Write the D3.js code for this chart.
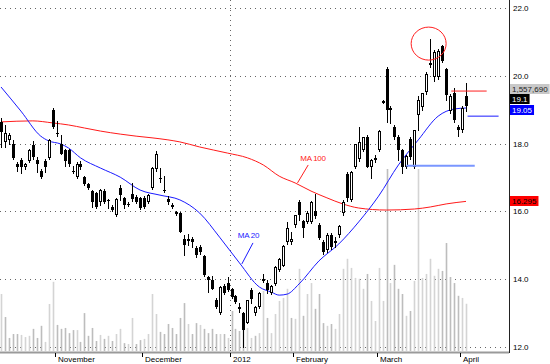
<!DOCTYPE html>
<html>
<head>
<meta charset="utf-8">
<script src="https://cdn.jsdelivr.net/npm/d3@7"></script>
<style>
  body { margin: 0; background: #fff; }
  svg { display: block; font-family: Arial, "Liberation Sans", sans-serif; }
</style>
</head>
<body>
<div id="chart"></div>
<script>
// daily bars, late Oct 2011 -> early Apr 2012
const open = [18.64,18.05,18.10,18.00,17.40,17.52,17.30,17.48,17.95,17.52,17.19,17.49,17.58,18.99,18.32,17.99,17.81,17.81,17.18,17.01,
  17.40,17.01,16.81,16.60,16.54,16.28,16.60,16.33,16.13,15.90,16.69,16.40,16.22,16.51,16.42,16.40,16.40,16.28,16.69,17.25,
  17.00,16.62,16.37,16.19,15.98,15.95,15.19,15.15,15.19,14.92,14.95,14.68,14.06,13.98,13.39,13.00,13.80,13.89,13.71,13.50,
  13.18,13.00,12.71,13.68,13.00,13.18,14.00,13.89,13.59,13.86,14.27,14.40,15.10,15.10,15.60,16.28,15.72,15.69,15.69,16.00,
  15.60,15.10,14.86,15.30,15.10,15.30,15.95,17.10,16.34,17.30,17.55,17.81,18.19,17.31,17.58,17.81,19.25,20.20,18.98,18.49,
  18.19,17.81,17.31,18.13,17.31,18.85,19.08,19.52,20.35,19.95,19.97,20.88,20.20,18.95,19.50,18.50,18.40,19.40];
const high = [18.75,18.55,18.30,18.10,17.45,17.58,17.42,17.85,18.07,17.60,17.25,17.55,18.15,19.05,18.66,18.25,17.85,17.85,17.35,17.45,
  17.50,17.05,16.85,16.62,16.56,16.65,16.65,16.37,16.20,16.40,16.78,16.42,16.28,16.85,16.48,16.42,16.45,16.52,17.30,17.78,
  17.28,17.05,16.45,16.25,16.00,15.98,15.30,15.33,15.25,14.98,15.00,14.70,14.08,14.10,13.45,13.79,13.85,14.07,13.75,13.52,
  13.30,13.03,13.40,13.75,13.20,13.62,14.15,13.98,13.82,14.40,14.62,15.00,15.70,15.40,15.90,16.34,15.75,16.00,16.30,16.50,
  15.65,15.15,15.35,15.35,15.25,15.60,16.35,17.15,17.20,18.00,18.50,18.20,18.25,17.56,17.65,18.40,19.30,20.25,19.12,18.55,
  18.25,17.85,17.65,18.20,18.40,19.40,19.50,20.10,21.10,20.75,20.80,20.90,20.22,19.45,19.65,18.55,19.10,19.78];
const low = [17.90,17.90,18.00,17.55,17.20,17.13,17.25,17.45,17.55,17.16,17.00,17.16,17.55,18.45,18.22,17.68,17.35,17.35,17.13,16.98,
  17.25,16.78,16.65,16.13,16.10,16.20,16.25,16.10,16.00,15.85,16.34,16.10,16.15,16.30,16.25,16.08,16.10,16.25,16.65,17.20,
  16.87,16.57,16.22,16.10,15.90,15.39,14.71,15.00,14.95,14.65,14.75,14.10,13.62,13.70,13.15,12.98,13.55,13.65,13.45,13.30,
  13.03,12.00,12.70,13.30,12.95,13.15,13.92,13.58,13.55,13.82,14.25,14.38,15.05,15.05,15.55,15.75,15.25,15.65,15.65,15.80,
  15.18,14.75,14.80,14.90,14.95,15.25,15.90,16.30,16.30,17.28,17.50,17.78,17.30,17.00,17.45,17.78,19.20,18.64,18.60,18.15,
  17.52,17.13,17.28,17.55,17.28,18.40,19.00,19.45,20.25,19.85,19.90,20.40,19.30,18.90,18.65,18.22,18.35,18.95];
const close = [18.35,18.30,18.25,17.57,17.30,17.31,17.40,17.81,17.60,17.40,17.01,17.31,18.11,18.49,18.30,17.69,17.49,17.40,17.16,17.40,
  17.31,16.81,16.69,16.28,16.13,16.63,16.28,16.31,16.04,16.37,16.48,16.19,16.21,16.37,16.28,16.10,16.13,16.48,17.28,17.70,
  16.95,16.60,16.28,16.13,15.92,15.39,15.01,15.19,15.10,14.71,14.80,14.12,13.98,13.71,13.18,13.77,13.59,13.68,13.47,13.33,
  13.12,12.50,13.38,13.42,13.18,13.59,14.02,13.68,13.80,14.37,14.60,14.98,15.50,15.19,15.89,15.89,15.51,15.95,16.28,15.87,
  15.21,14.80,15.30,14.95,15.13,15.57,16.28,16.40,17.16,17.99,18.05,18.18,17.31,17.52,17.52,18.37,19.27,18.99,19.06,18.19,
  17.81,17.31,17.63,17.60,18.40,19.30,19.48,20.05,20.38,20.70,20.72,20.45,19.43,19.40,18.70,18.40,19.05,19.10];
const volume = [1880000,1120000,430000,560000,560000,530000,460000,500000,730000,430000,830000,300000,1550000,2280000,860000,730000,760000,590000,690000,690000,
  300000,1250000,500000,760000,330000,530000,400000,500000,330000,560000,730000,260000,230000,1090000,230000,360000,400000,560000,1880000,1220000,
  630000,560000,890000,760000,560000,1090000,1580000,890000,560000,920000,860000,730000,590000,730000,560000,560000,560000,430000,1320000,730000,
  660000,1090000,760000,430000,500000,590000,1980000,1090000,590000,1220000,1650000,1750000,2050000,1090000,1060000,2710000,1160000,1880000,2240000,1390000,
  1880000,920000,830000,890000,730000,1220000,2710000,3040000,2740000,2410000,2380000,2050000,2540000,1650000,990000,2740000,1650000,6000000,2240000,2840000,
  2050000,1880000,1160000,1320000,2310000,6000000,2410000,2540000,3040000,2480000,2710000,2640000,3560000,2440000,2240000,1820000,1750000,1557690];

// moving averages at these bars
const ma20Bars = [0,5,10,12,15,17,20,25,30,35,40,45,50,55,60,65,68,70,72,75,80,85,90,95,100,105,110,114,117];
const ma20Vals = [19.67,18.96,18.22,18.08,17.99,17.87,17.58,17.28,17.01,16.63,16.48,16.34,15.95,15.24,14.48,13.77,13.62,13.53,13.56,13.86,14.54,15.04,15.69,16.45,17.37,18.11,18.81,19.02,19.05];
const ma100Bars = [0,8,13,17,21,25,30,34,38,42,45,50,57,62,66,70,74,78,82,86,90,97,104,108,112,117];
const ma100Vals = [18.64,18.67,18.61,18.55,18.46,18.37,18.28,18.22,18.17,18.11,18.05,17.90,17.72,17.58,17.37,17.04,16.84,16.60,16.40,16.22,16.10,16.04,16.07,16.13,16.22,16.295];

const priceTicks = [12, 14, 16, 18, 20, 22];
const monthBars = [-8, 14, 36, 58, 74, 95, 116];
const monthLabels = ['October', 'November', 'December', '2012', 'February', 'March', 'April'];

const width = 550, height = 364;
const axisX = 509;

const bars = open.map((o, i) => ({ i, o, h: high[i], l: low[i], c: close[i], v: volume[i] }));

const x = d3.scaleLinear().domain([0, open.length - 1]).range([1, 466]);
const y = d3.scaleLinear().domain([12, 22]).range([347, 8]);
const yVol = d3.scaleLinear().domain([0, 6e6]).range([351, 169]);
const step = x(1) - x(0);
const cx = i => Math.round(x(i));

const svg = d3.select('#chart').append('svg')
  .attr('width', width)
  .attr('height', height);

svg.append('defs').append('clipPath').attr('id', 'plot')
  .append('rect').attr('x', 0).attr('y', 0).attr('width', axisX).attr('height', 352);

// grid
svg.append('g')
  .selectAll('line')
  .data(priceTicks)
  .enter().append('line')
  .attr('x1', 0).attr('x2', axisX - 2)
  .attr('y1', d => Math.round(y(d)) + 0.5).attr('y2', d => Math.round(y(d)) + 0.5)
  .attr('stroke', '#666')
  .attr('stroke-dasharray', '1,4');

const yearX = Math.round(x(monthBars[3]) - step / 2) + 0.5;
svg.append('line')
  .attr('x1', yearX).attr('x2', yearX)
  .attr('y1', 0).attr('y2', 351)
  .attr('stroke', '#666')
  .attr('stroke-dasharray', '1,4');

const plot = svg.append('g').attr('clip-path', 'url(#plot)');

// volume
plot.append('g')
  .selectAll('line')
  .data(bars)
  .enter().append('line')
  .attr('x1', d => cx(d.i) + 0.5).attr('x2', d => cx(d.i) + 0.5)
  .attr('y1', yVol(0)).attr('y2', d => yVol(d.v))
  .attr('stroke', (d, i) => i > 0 && d.c < close[i - 1] ? '#bdbdbd' : '#d4d4d4')
  .attr('stroke-width', 1.6);

// moving averages
const line = d3.line().curve(d3.curveMonotoneX);
plot.append('path')
  .attr('d', line(ma100Bars.map((b, k) => [x(b), y(ma100Vals[k])])))
  .attr('fill', 'none').attr('stroke', '#ff1a1a').attr('stroke-width', 1);
plot.append('path')
  .attr('d', line(ma20Bars.map((b, k) => [x(b), y(ma20Vals[k])])))
  .attr('fill', 'none').attr('stroke', '#1a1aff').attr('stroke-width', 1);

// candles
const candle = plot.append('g')
  .selectAll('g')
  .data(bars)
  .enter().append('g')
  .attr('shape-rendering', 'crispEdges');

candle.append('line')
  .attr('x1', d => cx(d.i) + 0.5).attr('x2', d => cx(d.i) + 0.5)
  .attr('y1', d => Math.round(y(d.h))).attr('y2', d => Math.round(y(d.l)) + 1)
  .attr('stroke', '#000');

candle.append('rect')
  .attr('x', d => d.c < d.o ? cx(d.i) - 1 : cx(d.i) - 0.5)
  .attr('y', d => Math.round(y(Math.max(d.o, d.c))) + (d.c < d.o ? 0 : 0.5))
  .attr('width', d => d.c < d.o ? 3 : 2)
  .attr('height', d => {
    const hgt = Math.round(y(Math.min(d.o, d.c))) - Math.round(y(Math.max(d.o, d.c)));
    return d.c < d.o ? Math.max(1, hgt) : Math.max(1, hgt - 1);
  })
  .attr('fill', d => d.c < d.o ? '#000' : '#fff')
  .attr('stroke', d => d.c < d.o ? 'none' : '#000');

// hand drawn annotations
const ann = svg.append('g');
ann.append('line') // resistance
  .attr('x1', x(113.3)).attr('x2', x(122.2))
  .attr('y1', y(19.55)).attr('y2', y(19.55))
  .attr('stroke', '#ff2020');
ann.append('line')
  .attr('x1', x(117.4)).attr('x2', x(125.2))
  .attr('y1', y(18.81)).attr('y2', y(18.81))
  .attr('stroke', '#1a1aff');
ann.append('line') // support
  .attr('x1', x(102)).attr('x2', x(119.2))
  .attr('y1', y(17.35)).attr('y2', y(17.35))
  .attr('stroke', '#7a96ff').attr('stroke-width', 2);
ann.append('ellipse')
  .attr('cx', x(107.6)).attr('cy', y(20.95))
  .attr('rx', step * 4.4).attr('ry', 16.5)
  .attr('fill', 'none').attr('stroke', '#ff2020');

// MA labels
ann.append('text')
  .attr('x', x(75.3)).attr('y', y(17.49))
  .attr('font-size', '8px').attr('letter-spacing', '-0.3px')
  .attr('fill', '#ff2020')
  .text('MA 100');
ann.append('line')
  .attr('x1', x(77.3)).attr('y1', y(17.37))
  .attr('x2', x(74.6)).attr('y2', y(16.84))
  .attr('stroke', '#ff2020');
ann.append('text')
  .attr('x', x(59.6)).attr('y', y(15.22))
  .attr('font-size', '8px').attr('letter-spacing', '-0.3px')
  .attr('fill', '#1a1aff')
  .text('MA 20');
ann.append('line')
  .attr('x1', x(63.4)).attr('y1', y(15.07))
  .attr('x2', x(60.6)).attr('y2', y(14.45))
  .attr('stroke', '#1a1aff');

// right axis
svg.append('line')
  .attr('x1', axisX + 0.5).attr('x2', axisX + 0.5)
  .attr('y1', 0).attr('y2', 353)
  .attr('stroke', '#222');

svg.append('g')
  .selectAll('text')
  .data(priceTicks)
  .enter().append('text')
  .attr('x', axisX + 4)
  .attr('y', d => y(d) + 3)
  .attr('font-size', '8px')
  .attr('fill', '#000')
  .text(d => d3.format('.1f')(d));

// bottom axis
svg.append('line')
  .attr('x1', 0).attr('x2', axisX)
  .attr('y1', 352.5).attr('y2', 352.5)
  .attr('stroke', '#9a9a9a').attr('stroke-width', 2);

const month = svg.append('g')
  .selectAll('g')
  .data(monthBars)
  .enter().append('g')
  .attr('transform', d => `translate(${Math.round(x(d) - step / 2) + 0.5},0)`);
month.append('line')
  .attr('y1', 353).attr('y2', 357)
  .attr('stroke', '#000');
month.append('text')
  .attr('x', 2.5).attr('y', 362)
  .attr('font-size', '8px')
  .attr('fill', '#000')
  .text((d, k) => monthLabels[k]);

// value tags on the right
const last = open.length - 1;
const ma20Y = y(ma20Vals[ma20Vals.length - 1]) + 2;
const tags = [
  { text: d3.format(',')(volume[last]), cy: ma20Y - 21.5, bg: '#c8c8c8', fg: '#222' },
  { text: String(close[last]), cy: ma20Y - 11, bg: '#000', fg: '#fff' },
  { text: String(ma20Vals[ma20Vals.length - 1]), cy: ma20Y, bg: '#0000ff', fg: '#fff' },
  { text: String(ma100Vals[ma100Vals.length - 1]), cy: y(ma100Vals[ma100Vals.length - 1]), bg: '#ff0000', fg: '#000' }
];
const tag = svg.append('g')
  .selectAll('g')
  .data(tags)
  .enter().append('g');
tag.append('rect')
  .attr('x', axisX + 1)
  .attr('y', d => Math.round(d.cy - 5))
  .attr('height', 10)
  .attr('fill', d => d.bg);
tag.append('text')
  .attr('x', axisX + 3)
  .attr('y', d => Math.round(d.cy - 5) + 8)
  .attr('font-size', '8px')
  .attr('fill', d => d.fg)
  .text(d => d.text);
tag.each(function () {
  const g = d3.select(this);
  const w = g.select('text').node().getComputedTextLength();
  g.select('rect').attr('width', w + 4);
});
</script>
</body>
</html>
